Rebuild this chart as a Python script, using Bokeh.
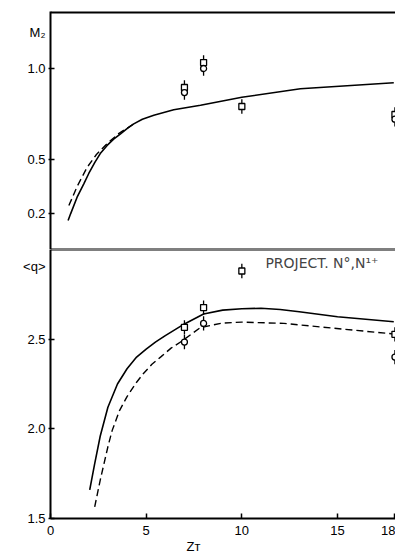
from bokeh.plotting import figure
from bokeh.layouts import column
from bokeh.models import Range1d, Span, Label, FixedTicker, LinearAxis, CustomJSTickFormatter
from bokeh.embed import file_html
from bokeh.resources import INLINE

# ---- data ----
# top panel: M2 vs Z_T
zt_sq_top = [7, 8, 10, 18]
m2_sq = [0.895, 1.033, 0.79, 0.746]
zt_ci_top = [7, 8, 18]
m2_ci = [0.867, 1.0, 0.72]
m2_err = 0.04

zt_m2_solid = [0.92, 1.05, 1.39, 1.74, 2.0, 2.31, 2.6, 2.96, 3.3, 3.66, 4.0, 4.35, 4.8, 5.4,
               6.44, 7.84, 10.0, 13.06, 17.94]
m2_solid = [0.16, 0.197, 0.289, 0.363, 0.42, 0.48, 0.53, 0.575, 0.61, 0.639, 0.668, 0.694,
            0.72, 0.742, 0.772, 0.797, 0.841, 0.888, 0.921]
zt_m2_dash = [0.96, 1.4, 1.92, 2.4, 3.0, 3.6, 4.35]
m2_dash = [0.243, 0.35, 0.455, 0.525, 0.59, 0.643, 0.694]

# bottom panel: <q> vs Z_T
zt_sq_bot = [7, 8, 10, 18]
q_sq = [2.566, 2.676, 2.88, 2.527]
zt_ci_bot = [7, 8, 18]
q_ci = [2.484, 2.588, 2.40]
q_err = 0.04

zt_q_solid = [2.05, 2.3, 2.6, 3.0, 3.5, 4.0, 4.5, 5.0, 5.5, 6.0, 7.0, 8.0, 9.0, 10.0, 11.0,
              12.0, 13.0, 15.0, 17.94]
q_solid = [1.66, 1.80, 1.96, 2.12, 2.25, 2.335, 2.40, 2.445, 2.485, 2.52, 2.585, 2.64, 2.662,
           2.67, 2.672, 2.665, 2.653, 2.625, 2.597]
zt_q_dash = [2.31, 2.61, 3.0, 3.22, 3.6, 4.0, 4.5, 4.87, 5.3, 5.75, 6.3, 6.88, 7.84, 9.0, 10.0,
             12.2, 14.8, 17.94]
q_dash = [1.565, 1.72, 1.90, 1.99, 2.10, 2.18, 2.26, 2.31, 2.36, 2.40, 2.45, 2.49, 2.565, 2.59,
          2.595, 2.588, 2.561, 2.529]

x_ticks = [0, 5, 10, 15, 18]
m2_ticks = [0.2, 0.5, 1.0]
m2_name_pos = 1.2
q_ticks = [1.5, 2.0, 2.5]
q_name_pos = 2.906
zt_name_pos = 7.47

FONT = "Liberation Sans"
x_range = Range1d(0, 18.03)


def label_formatter(name_pos, name):
    return CustomJSTickFormatter(
        args=dict(pos=name_pos, name=name),
        code="return Math.abs(tick - pos) < 1e-6 ? name : tick.toFixed(1);")


def style_y(p, ticks, name_pos, name):
    ax = p.yaxis[0]
    ax.ticker = FixedTicker(ticks=ticks)
    ax.formatter = CustomJSTickFormatter(code="return '';")
    ax.major_tick_in = 4
    ax.major_tick_out = 2
    ax.minor_tick_in = 0
    ax.minor_tick_out = 0
    ax.axis_line_width = 2
    ax.major_tick_line_width = 1.5
    ax.major_label_standoff = 0
    # label axis (text only), stacked to the left of the drawn axis
    lab = LinearAxis(ticker=FixedTicker(ticks=ticks + [name_pos]),
                     formatter=label_formatter(name_pos, name))
    lab.axis_line_color = None
    lab.major_tick_line_color = None
    lab.minor_tick_line_color = None
    lab.major_tick_in = 0
    lab.major_tick_out = 0
    lab.minor_tick_in = 0
    lab.minor_tick_out = 0
    lab.major_label_standoff = 3
    lab.major_label_text_font = FONT
    lab.major_label_text_font_size = "13px"
    lab.major_label_text_color = "black"
    p.add_layout(lab, "left")


# ---- top figure ----
p1 = figure(width=395, height=249, x_range=x_range, y_range=Range1d(0, 1.315),
            output_backend="svg", toolbar_location=None, x_axis_location=None,
            min_border_left=50, min_border_right=0, min_border_top=11, min_border_bottom=0)
p1.outline_line_color = None
p1.grid.visible = False
style_y(p1, m2_ticks, m2_name_pos, "M₂")
p1.add_layout(Span(location=1.315, dimension="width", line_color="black", line_width=4))
p1.add_layout(Span(location=0, dimension="width", line_color="black", line_width=2))

p1.line(zt_m2_solid, m2_solid, line_color="black", line_width=1.6)
p1.line(zt_m2_dash, m2_dash, line_color="black", line_width=1.4, line_dash="7 4")
p1.segment(x0=zt_sq_top, y0=[v - m2_err for v in m2_sq], x1=zt_sq_top,
           y1=[v + m2_err for v in m2_sq], line_color="black", line_width=1.3)
p1.segment(x0=zt_ci_top, y0=[v - m2_err for v in m2_ci], x1=zt_ci_top,
           y1=[v + m2_err for v in m2_ci], line_color="black", line_width=1.3)
p1.scatter(zt_sq_top, m2_sq, marker="square", size=6, fill_color="white",
           line_color="black", line_width=1.3)
p1.scatter(zt_ci_top, m2_ci, marker="circle", size=6, fill_color="white",
           line_color="black", line_width=1.3)

# ---- bottom figure ----
p2 = figure(width=395, height=307, x_range=x_range, y_range=Range1d(1.5, 3.0),
            output_backend="svg", toolbar_location=None,
            min_border_left=50, min_border_right=0, min_border_top=0, min_border_bottom=36)
p2.outline_line_color = None
p2.grid.visible = False
style_y(p2, q_ticks, q_name_pos, "<q>")
p2.add_layout(Span(location=3.0, dimension="width", line_color="black", line_width=2))
xa = p2.xaxis[0]
xa.ticker = FixedTicker(ticks=x_ticks)
xa.major_tick_in = 5
xa.major_tick_out = 0
xa.minor_tick_in = 0
xa.minor_tick_out = 0
xa.axis_line_width = 2
xa.major_tick_line_width = 1.5
xa.major_label_standoff = 7
xa.major_label_text_font = FONT
xa.major_label_text_font_size = "13px"
xa.major_label_text_color = "black"

# axis title Z_T as a text-only axis below the tick labels
xt = LinearAxis(ticker=FixedTicker(ticks=[zt_name_pos]),
                formatter=CustomJSTickFormatter(code="return 'Zᴛ';"))
xt.axis_line_color = None
xt.major_tick_line_color = None
xt.minor_tick_line_color = None
xt.major_tick_in = 0
xt.major_tick_out = 0
xt.minor_tick_in = 0
xt.minor_tick_out = 0
xt.major_label_standoff = 1
xt.major_label_text_font = FONT
xt.major_label_text_font_size = "13px"
xt.major_label_text_color = "black"
p2.add_layout(xt, "below")

p2.line(zt_q_solid, q_solid, line_color="black", line_width=1.6)
p2.line(zt_q_dash, q_dash, line_color="black", line_width=1.4, line_dash="7 4")
p2.segment(x0=zt_sq_bot, y0=[v - q_err for v in q_sq], x1=zt_sq_bot,
           y1=[v + q_err for v in q_sq], line_color="black", line_width=1.3)
p2.segment(x0=zt_ci_bot, y0=[v - q_err for v in q_ci], x1=zt_ci_bot,
           y1=[v + q_err for v in q_ci], line_color="black", line_width=1.3)
p2.scatter(zt_sq_bot, q_sq, marker="square", size=6, fill_color="white",
           line_color="black", line_width=1.3)
p2.scatter(zt_ci_bot, q_ci, marker="circle", size=6, fill_color="white",
           line_color="black", line_width=1.3)
p2.add_layout(Label(x=11.23, y=2.922, text="PROJECT. N°,N¹⁺", text_align="left",
                    text_baseline="middle", text_font="DejaVu Sans", text_font_size="14px"))

layout = column(p1, p2, spacing=0)
open("out.html", "w").write(file_html(layout, INLINE))
